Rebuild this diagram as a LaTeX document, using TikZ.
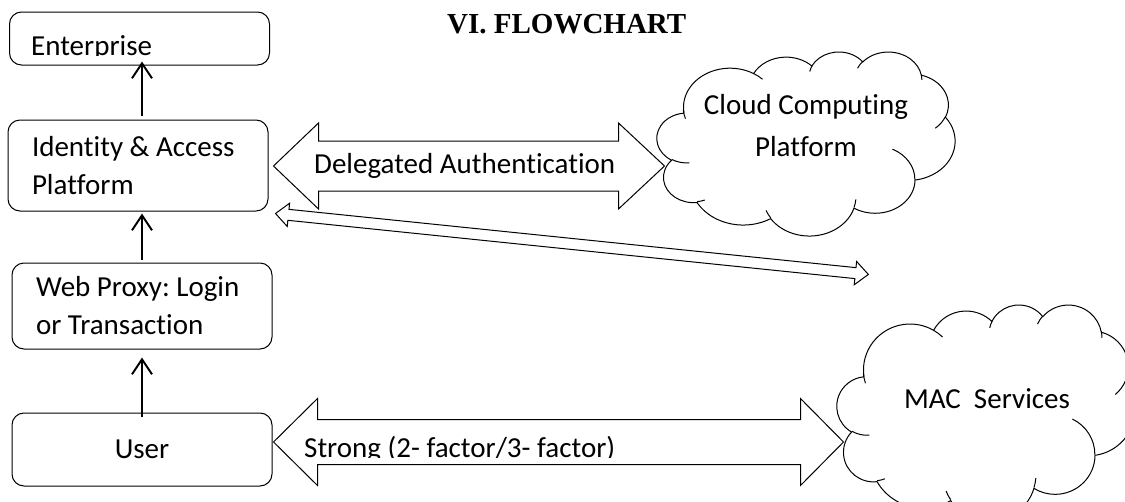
\documentclass[tikz,border=0pt]{standalone}
\usepackage{fontspec}
\setmainfont{Carlito}[Ligatures=CommonOff]
\newfontfamily\titlefont{Liberation Serif}
\usetikzlibrary{arrows.meta,calc}
\frenchspacing

\tikzset{
  box/.style={draw, rounded corners=12pt, line width=1pt, minimum width=260pt,
    text width=212pt, inner xsep=24pt, inner ysep=0pt, align=flush left,
    font=\fontsize{29}{38}\selectfont},
  cloudline/.style={draw, line width=1pt},
  fatarrow/.style={draw, line width=1pt, line join=miter},
  uparrow/.style={line width=2pt, -{Straight Barb[length=15pt,width=20pt]}},
  arrowtext/.style={font=\fontsize{29}{38}\selectfont, inner sep=0pt}
}

% one puff of the cloud: x radius, y radius, start angle, sweep (angles as seen)
\newcommand{\msarc}[4]{arc[start angle={atan2((#1)*sin(#3),(#2)*cos(#3))},
  delta angle={Mod(atan2((#1)*sin((#3)+(#4)),(#2)*cos((#3)+(#4)))-atan2((#1)*sin(#3),(#2)*cos(#3))+720,360)},
  x radius=#1, y radius=#2]}

% cloud in a 432 x 432 frame
\newcommand{\mscloud}{%
  \draw[cloudline] (39,143.7) \msarc{67.53}{91.90}{-190.487}{123.781}
    \msarc{53.33}{72.67}{-144.102}{89.945}
    \msarc{43.65}{59.45}{-145.808}{99.723}
    \msarc{48.57}{65.95}{-130.986}{117.242}
    \msarc{53.33}{72.73}{-78.709}{109.027}
    \msarc{67.75}{92.20}{-46.267}{130.269}
    \msarc{57.85}{78.67}{0.625}{114.033}
    \msarc{67.52}{92.15}{22.452}{115.173}
    \msarc{77.20}{105.43}{66.243}{75.711}
    \msarc{43.60}{59.18}{-274.942}{146.736}
    \msarc{43.45}{59.45}{-246.829}{152.519} -- cycle;
  \draw[cloudline] (46.93,261.77) \msarc{43.45}{59.45}{86.742}{26.430}
    (69.28,348.99) \msarc{43.60}{59.18}{73.610}{11.447}
    (164.78,390.90) \msarc{67.52}{92.15}{137.624}{14.081}
    (288.27,347.51) \msarc{67.52}{92.15}{6.453}{15.998}
    (341.29,229.54) \msarc{57.85}{78.67}{-70.292}{70.917}
    (417.98,153.54) \msarc{53.33}{72.73}{30.318}{27.752}
    (383.24,54.26) \msarc{48.57}{65.95}{-13.744}{14.859}
    (290.78,39.52) \msarc{48.57}{65.95}{-149.181}{18.195}
    (221.41,47.20) \msarc{43.65}{59.45}{-163.494}{17.686}
    (140.00,51.92) \msarc{67.53}{91.90}{-66.707}{12.319}
    (41.27,157.89) \msarc{67.53}{91.90}{155.646}{17.226};
}

\begin{document}
\begin{tikzpicture}[x=1pt,y=-1pt]
\useasboundingbox (0,0) rectangle (1125,501);

\node[anchor=base west, inner sep=0pt, font=\titlefont\bfseries\fontsize{29}{29}\selectfont]
  (title) at (447,33) {VI. FLOWCHART};

% boxes on the left
\node[box, minimum height=53pt] (ent) at (139.5,38.5) {};
\node[box, minimum height=91pt] (ident) at (138,165.5) {Identity \& Access\\Platform};
\node[box, minimum height=86pt] (web) at (142,306) {Web Proxy: Login\\or Transaction};
\node[box, minimum height=73pt, align=center] (user) at (142,449.5) {User};
\begin{scope}
\clip (0,0) rectangle (300,55.5);
\node[arrowtext, anchor=base west] (enttext) at (31,55) {Enterprise};
\end{scope}

\draw[uparrow] ([xshift=4pt,yshift=4pt]ident.north) -- ([xshift=4pt,yshift=4pt]ident.north |- ent.south);
\draw[uparrow, shorten >=2pt] ([yshift=3pt]web.north) -- (web.north |- ident.south);
\draw[uparrow, shorten >=8pt] ([yshift=-4.5pt]user.north) -- (user.north |- web.south);

% clouds
\begin{scope}[shift={(657,51.4)}, xscale=0.6898, yscale=0.4259]
\mscloud
\end{scope}
\node[arrowtext, align=center, font=\fontsize{29}{42}\selectfont] (ccp) at (806,126)
  {Cloud Computing\\Platform};
\begin{scope}[shift={(837,304.3)}, xscale=0.6898, yscale=0.5]
\mscloud
\end{scope}
\node[arrowtext] (mac) at (987,398.5) {MAC\ \ Services};

% big double arrows
\draw[fatarrow] (ident.east) ++(5,0.5) -- ++(45,-43) -- ++(0,18) -- ++(300,0) -- ++(0,-18)
  -- ++(46,43) -- ++(-46,43) -- ++(0,-18) -- ++(-300,0) -- ++(0,18) -- cycle;
\node[arrowtext, anchor=west] (deltext) at (314,166) {Delegated Authentication};

\draw[fatarrow] (user.east) ++(1,-7.5) -- ++(44,-43.5) -- ++(0,21) -- ++(483,0) -- ++(0,-21)
  -- ++(43,43.5) -- ++(-43,43.5) -- ++(0,-21) -- ++(-483,0) -- ++(0,21) -- cycle;
\begin{scope}
\clip (0,0) rectangle (1125,457.5);
\node[arrowtext, anchor=base west] (strongtext) at (304,457) {Strong (2- factor/3- factor)};
\end{scope}

% thin double arrow
\begin{scope}[shift={($(ident.south east)+(7,2)$)}, rotate=-5.87]
\draw[fatarrow] (0,0) -- (13,-11.7) -- (13,-5.5) -- (583,-5.5) -- (583,-11.7) -- (596,0)
  -- (583,11.7) -- (583,5.5) -- (13,5.5) -- (13,11.7) -- cycle;
\end{scope}
\end{tikzpicture}
\end{document}
